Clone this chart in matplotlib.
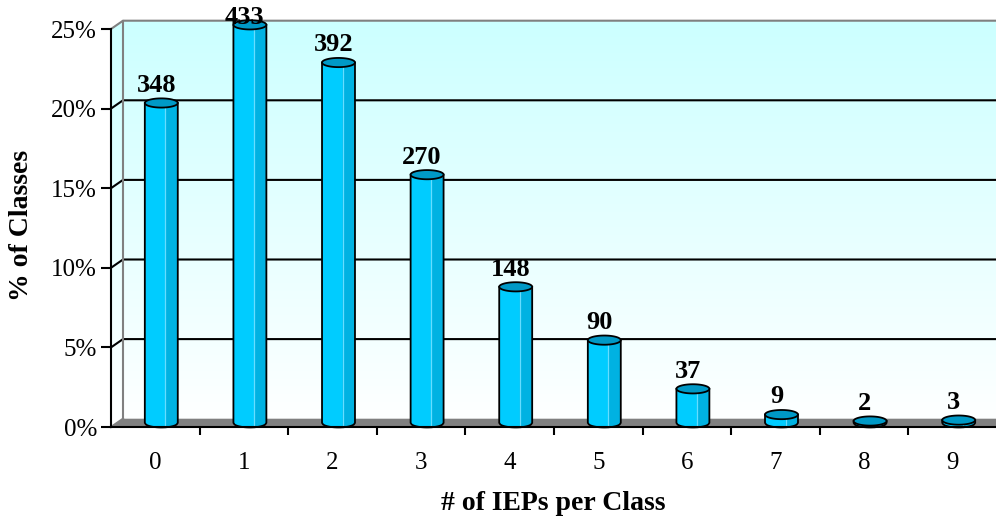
import numpy as np
import matplotlib
matplotlib.use("Agg")
import matplotlib.pyplot as plt
from matplotlib.patches import Polygon

# IEP counts per class
categories = ["0", "1", "2", "3", "4", "5", "6", "7", "8", "9"]
counts = [348, 433, 392, 270, 148, 90, 37, 9, 2, 3]
pct = [100.0 * c / sum(counts) for c in counts]
y_ticks = [0, 5, 10, 15, 20, 25]
y_ticklabels = ["0%", "5%", "10%", "15%", "20%", "25%"]

plt.rcParams["font.family"] = ["Liberation Serif", "DejaVu Serif"]

W, H = 996, 518
fig = plt.figure(figsize=(W / 100, H / 100), dpi=100)
ax = fig.add_axes([111 / W, 1 - 427 / H, 886 / W, 398 / H])
ax.set_xlim(-0.5, 9.5)
ax.set_ylim(0, 25)
ax.set_facecolor("none")

# pixel sizes -> data units for the fake depth
ppx = 886 / 10.0
ppy = 398 / 25.0
DX, DY = 12 / ppx, 8.3 / ppy

# walls with a cyan-to-white gradient
wall = Polygon([(-0.5, 0), (-0.5, 25), (-0.5 + DX, 25 + DY), (9.5 + DX, 25 + DY),
                (9.5 + DX, DY), (-0.5 + DX, DY)], closed=True, facecolor="none",
               edgecolor="none", transform=ax.transData, clip_on=False)
ax.add_patch(wall)
top = np.array([0xCC, 0xFF, 0xFF]) / 255.0
t = np.linspace(0, 1, 256)[:, None]
grad = (1 - t) * np.ones(3) + t * top
im = ax.imshow(grad[:, None, :], extent=(-0.5, 9.5 + DX, 0, 25 + DY), origin="lower",
               aspect="auto", interpolation="bilinear", zorder=0)
im.set_clip_box(fig.bbox)
im.set_clip_path(wall)
ax.set_xlim(-0.5, 9.5)
ax.set_ylim(0, 25)

# gridlines on back wall plus side-wall connectors
for g in y_ticks:
    col = "#808080" if g in (0, 25) else "black"
    if g == 0:
        ax.plot([-0.5, -0.5 + DX], [0, DY], color=col, lw=1.5, zorder=1, clip_on=False)
    else:
        ax.plot([-0.5, -0.5 + DX, 9.5 + DX], [g, g + DY, g + DY], color=col, lw=1.5,
                zorder=1, clip_on=False)
ax.plot([-0.5 + DX, -0.5 + DX], [DY, 25 + DY], color="#808080", lw=1.5, zorder=1,
        clip_on=False)

# floor
floor = Polygon([(-0.5, 0), (-0.5 + DX, DY), (9.5 + DX, DY), (9.5 + DX, 0)], closed=True,
                facecolor="#808080", edgecolor="none", zorder=1, clip_on=False)
ax.add_patch(floor)

# cylinders sit at mid depth
a = 0.186
b = 4.6 / ppy
mx, my = DX / 2, DY / 2


def strip(cx, v, u0, u1, n=30):
    u = np.linspace(u0, u1, n)
    xs = cx + a * u
    top_pts = list(zip(xs, np.full(n, v)))
    bot_pts = list(zip(xs[::-1], -b * np.sqrt(np.clip(1 - u[::-1] ** 2, 0, 1))))
    return np.array(top_pts + bot_pts) + [0, my]


for i, v in enumerate(pct):
    cx = i + mx
    ax.add_patch(Polygon(strip(cx, v, -1, 1), closed=True, facecolor="#00CCFF",
                         edgecolor="none", zorder=3, clip_on=False))
    ax.add_patch(Polygon(strip(cx, v, 0.25, 1), closed=True, facecolor="#00B2E2",
                         edgecolor="none", zorder=3, clip_on=False))
    ax.plot([cx + a * 0.25] * 2, [my - b * np.sqrt(1 - 0.0625), v + my], color="#66DDFF",
            lw=0.9, zorder=3, clip_on=False)
    ax.add_patch(Polygon(strip(cx, v, -1, 1), closed=True, facecolor="none",
                         edgecolor="black", lw=1.3, zorder=4, clip_on=False))
    tt = np.linspace(0, 2 * np.pi, 60)
    ax.add_patch(Polygon(np.c_[cx + a * np.cos(tt), v + my + b * np.sin(tt)], closed=True,
                         facecolor="#0099C6", edgecolor="black", lw=1.3, zorder=5,
                         clip_on=False))
    # labels sit above the cap, but stay inside the chart area at the top
    ly = min(v + my + b + 1.5 / ppy, 25.0)
    ax.text(i + 0.01, ly, str(counts[i]), ha="center", va="bottom",
            fontsize=19, fontweight="bold", zorder=6)

# axes, ticks and labels
for s in ("top", "right"):
    ax.spines[s].set_visible(False)
for s in ("left", "bottom"):
    ax.spines[s].set_linewidth(1.5)
    ax.spines[s].set_zorder(7)
ax.set_yticks(y_ticks)
ax.set_yticklabels(y_ticklabels, fontsize=18)
ax.tick_params(axis="y", direction="out", length=7, width=1.5, pad=3)
ax.set_xticks(np.arange(0.5, 9.5, 1.0))
ax.set_xticklabels([])
ax.tick_params(axis="x", which="major", direction="out", length=6, width=1.5)
ax.set_xticks(np.arange(0, 10), minor=True)
ax.set_xticklabels(categories, minor=True, fontsize=18)
ax.tick_params(axis="x", which="minor", length=0, pad=18)

fig.text(22 / W, 1 - 225 / H, "% of Classes", rotation=90, ha="center", va="center",
         fontsize=20, fontweight="bold")
fig.text(553 / W, 1 - 503 / H, "# of IEPs per Class", ha="center", va="center",
         fontsize=20, fontweight="bold")

fig.savefig("out.png", dpi=100)
